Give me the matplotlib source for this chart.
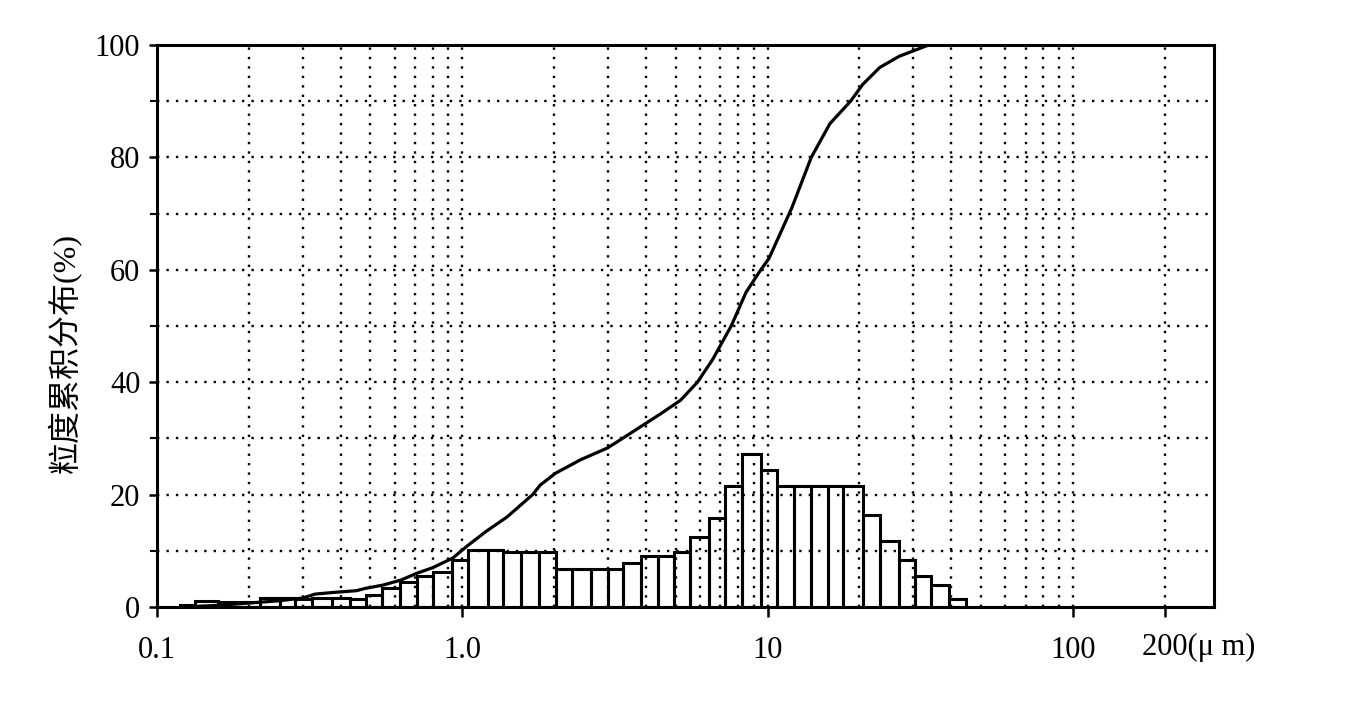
import matplotlib
matplotlib.use("Agg")
import matplotlib.pyplot as plt
import numpy as np

plt.rcParams['font.family'] = ['Liberation Serif', 'Noto Sans CJK SC']

# histogram bins (um) and heights (%)
bin_edges = [0.119, 0.133, 0.158, 0.218, 0.253, 0.284, 0.322, 0.375, 0.429, 0.484,
             0.547, 0.626, 0.712, 0.803, 0.927, 1.04, 1.21, 1.36, 1.56, 1.79,
             2.02, 2.28, 2.63, 2.99, 3.37, 3.86, 4.36, 4.92, 5.55, 6.41,
             7.23, 8.22, 9.49, 10.7, 12.2, 13.9, 15.8, 17.7, 20.5, 23.3,
             26.9, 30.3, 34.2, 39.2, 44.6]
bar_heights = [0.4, 1.0, 0.8, 1.6, 1.6, 1.4, 1.6, 1.6, 1.4, 2.1,
               3.4, 4.4, 5.5, 6.2, 8.3, 10.1, 10.1, 9.7, 9.7, 9.7,
               6.7, 6.7, 6.7, 6.7, 7.9, 9.0, 9.0, 9.7, 12.5, 15.9,
               21.6, 27.3, 24.4, 21.6, 21.6, 21.6, 21.6, 21.6, 16.4, 11.8,
               8.3, 5.6, 3.9, 1.5]

# cumulative curve
cum_size = [0.12, 0.16, 0.2, 0.25, 0.3, 0.33, 0.38, 0.45, 0.48, 0.55,
            0.63, 0.71, 0.80, 0.93, 1.04, 1.2, 1.4, 1.7, 1.8, 2.02,
            2.44, 2.99, 3.37, 3.92, 4.5, 5.19, 5.89, 6.6, 7.6, 8.5,
            9.5, 10.1, 12.0, 13.9, 16.0, 18.7, 20.5, 23.3, 27.0, 33.7]
cum_pct = [0.0, 0.3, 0.7, 1.1, 1.6, 2.3, 2.6, 2.9, 3.3, 3.9,
           4.8, 6.0, 7.0, 8.7, 10.9, 13.5, 16.0, 20.0, 21.7, 23.8,
           26.2, 28.3, 30.1, 32.4, 34.5, 36.8, 40.0, 44.0, 50.0, 56.0,
           60.0, 62.0, 71.0, 80.0, 86.0, 90.0, 93.0, 96.0, 98.0, 100.0]

x_ticks = [0.1, 1.0, 10, 100, 200]
x_labels = ['0.1', '1.0', '10', '100', '']
grid_x = [m * d for d in (0.1, 1, 10) for m in range(1, 10)][1:] + [100, 200]

fig = plt.figure(figsize=(13.69, 7.01), dpi=100)
ax = fig.add_axes([0.1147, 0.1341, 0.7721, 0.8017])

for gx in grid_x:
    ax.axvline(gx, color='black', lw=1.7, ls=(0, (1, 3)), zorder=1)
for gy in range(10, 100, 10):
    ax.axhline(gy, color='black', lw=1.7, ls=(0, (1, 3)), zorder=1)

left = np.array(bin_edges[:-1])
width = np.array(bin_edges[1:]) - left
ax.bar(left, bar_heights, width=width, align='edge', facecolor='none',
       edgecolor='black', linewidth=2.2, zorder=3)

ax.plot(cum_size, cum_pct, color='black', lw=2.3, zorder=4)

ax.set_xscale('log')
ax.set_xlim(0.1, 290)
ax.set_ylim(0, 100)
ax.set_xticks(x_ticks)
ax.set_xticklabels(x_labels)
ax.xaxis.set_minor_locator(matplotlib.ticker.NullLocator())
ax.set_yticks(range(0, 101, 20))
ax.set_yticks(range(10, 100, 20), minor=True)
ax.tick_params(axis='x', which='major', labelsize=22, length=7, width=1.8,
               direction='out', pad=14)
ax.tick_params(axis='y', which='major', labelsize=22, length=6, width=1.8,
               direction='out', pad=6)
ax.tick_params(axis='y', which='minor', length=5, width=1.5, direction='out')

for s in ax.spines.values():
    s.set_linewidth(2.2)

ax.annotate('200(μ m)', xy=(200, 0), xycoords=('data', 'axes fraction'),
            xytext=(-16.5, -19), textcoords='offset points', ha='left', va='top',
            fontsize=22)

ax.set_ylabel('粒度累积分布(%)', fontsize=23)
ax.yaxis.set_label_coords(-0.071, 0.452)

fig.savefig('out.png', dpi=100)
